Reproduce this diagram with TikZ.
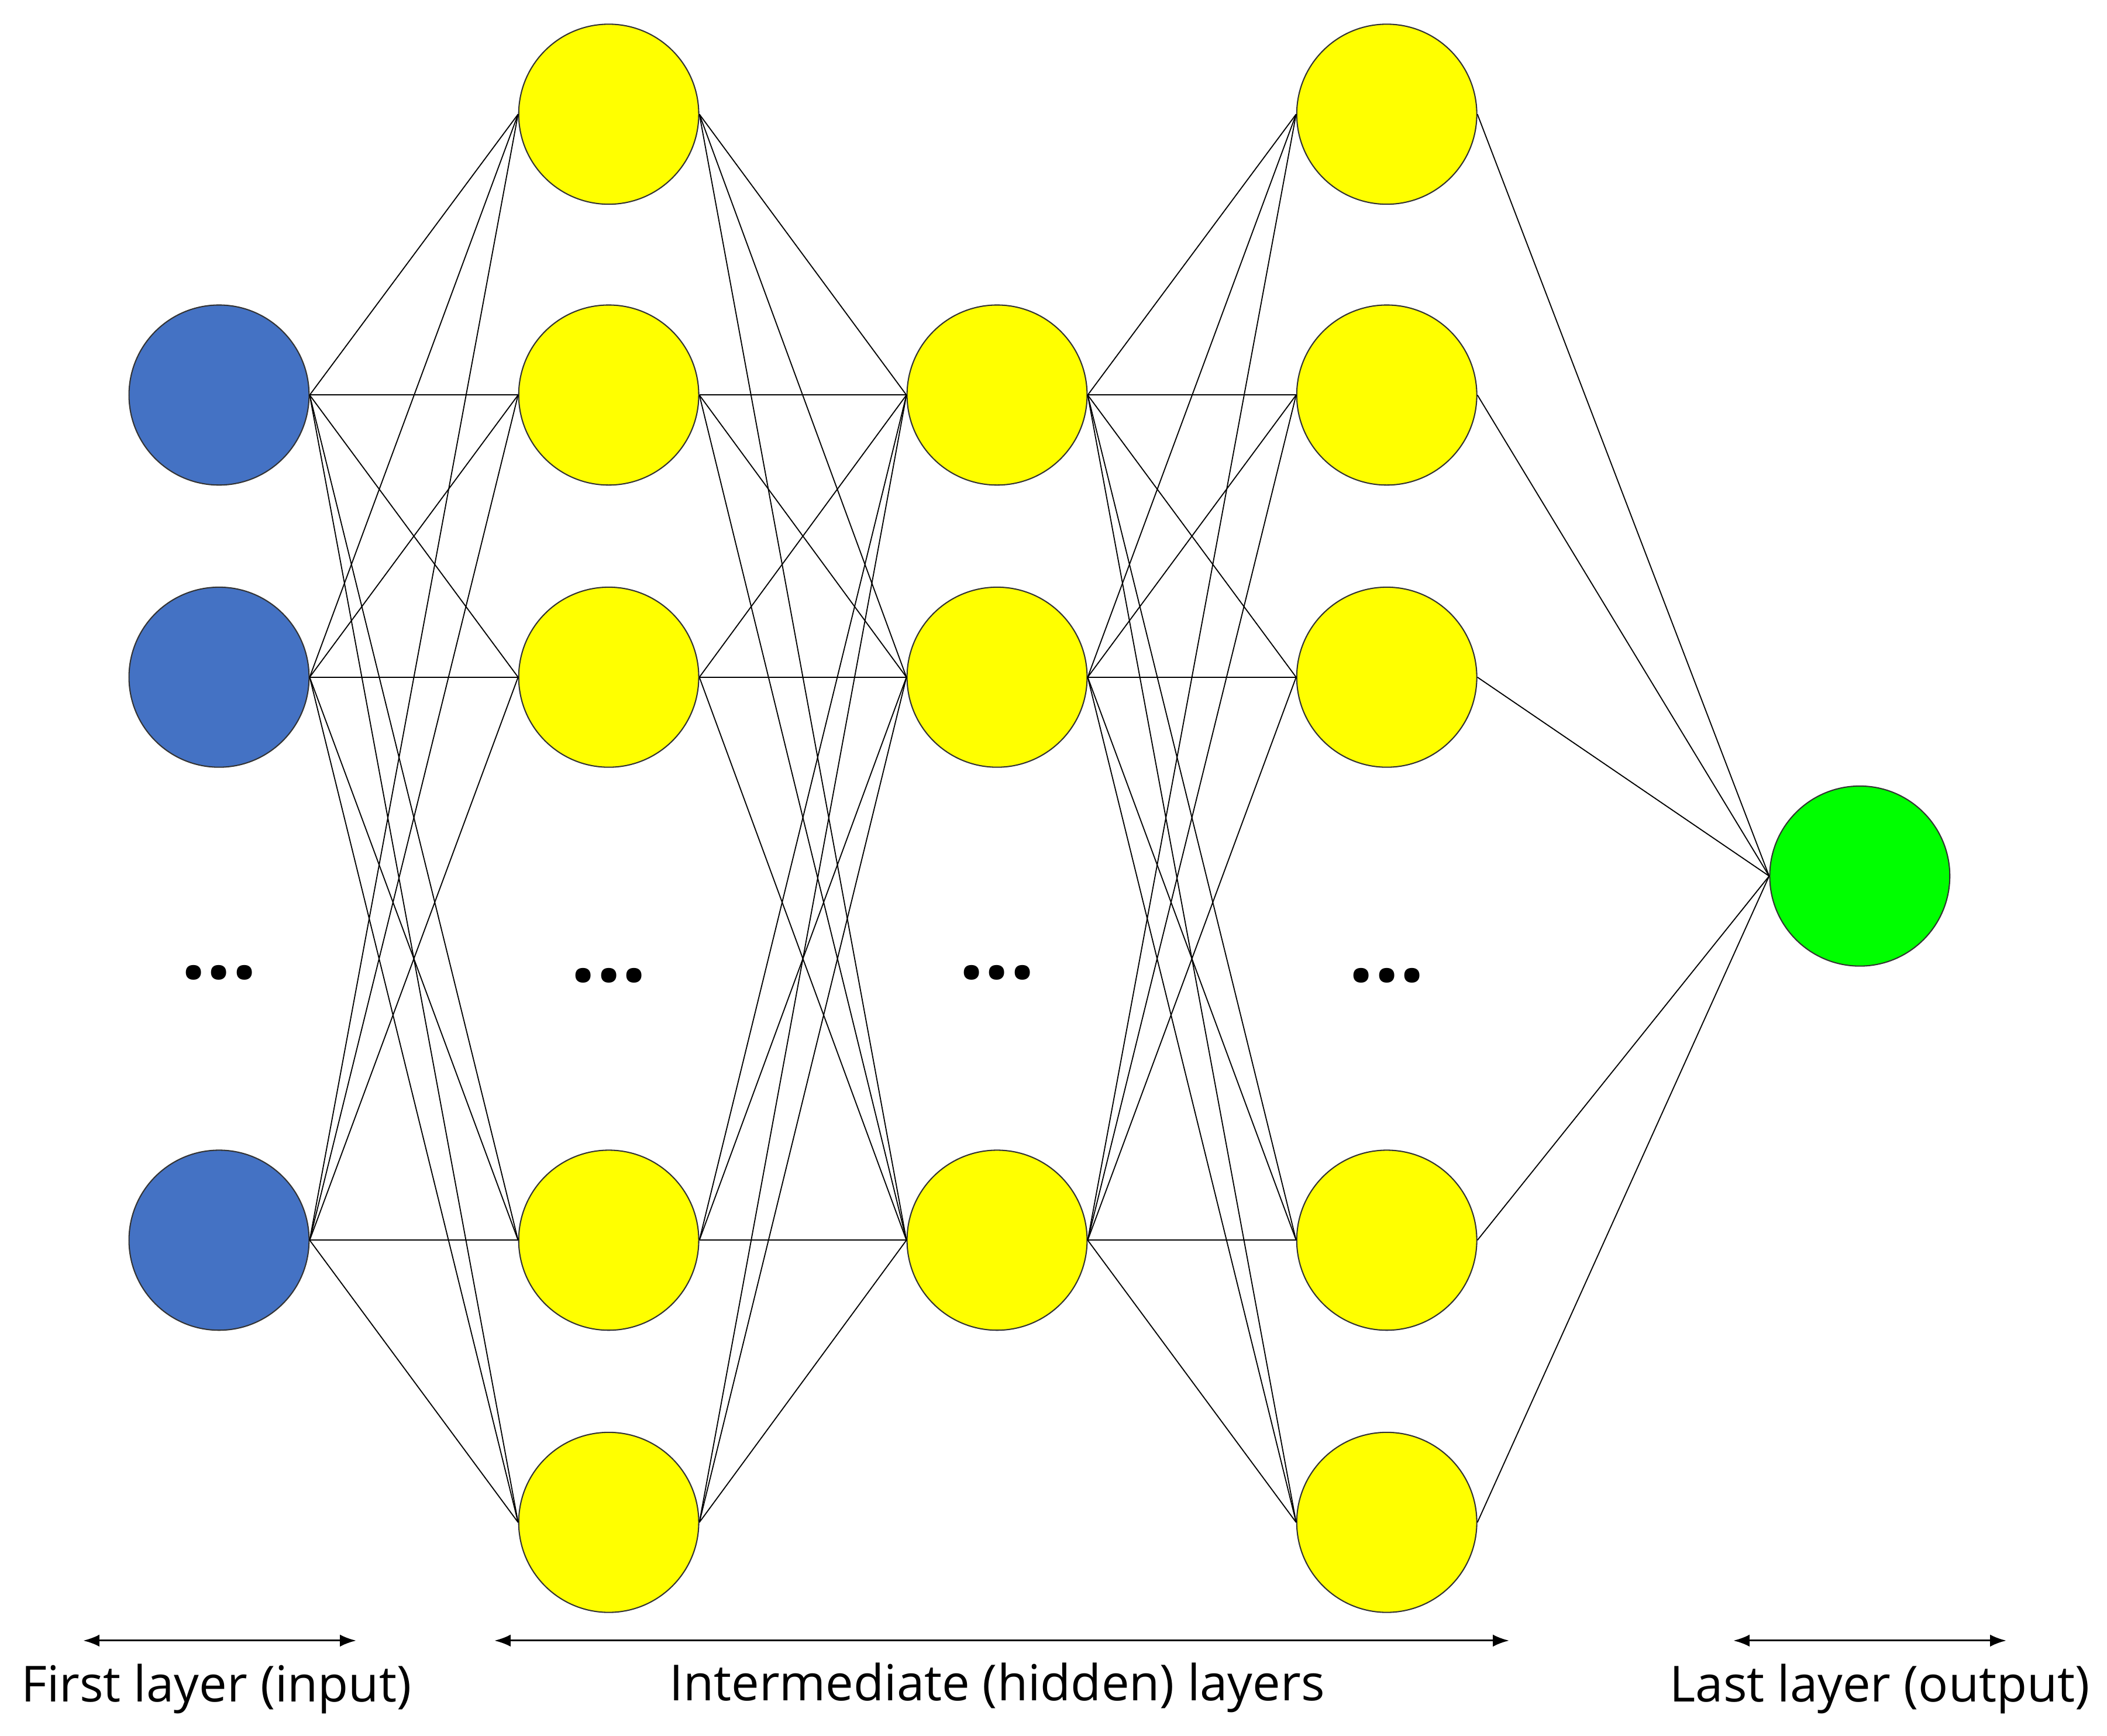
\documentclass[tikz,border=0pt]{standalone}
\usepackage{fontspec}
\setmainfont{Open Sans}
\usetikzlibrary{arrows.meta}
\begin{document}
\begin{tikzpicture}[x=1pt,y=-1pt,
  neu/.style={circle,draw=black!80,line width=0.9pt,minimum size=134pt,inner sep=0pt},
  inp/.style={neu,fill=blue4},
  hid/.style={neu,fill=yellow1},
  outn/.style={neu,fill=green1},
  con/.style={line width=0.8pt},
  dots/.style={font=\fontsize{66}{66}\selectfont\bfseries},
  lab/.style={font=\fontsize{37}{42}\selectfont},
  dim/.style={line width=1.3pt,{Latex[length=12pt,width=9pt]}-{Latex[length=12pt,width=9pt]}}]
\definecolor{blue4}{HTML}{4472C4}
\definecolor{green1}{HTML}{00FF00}
\definecolor{yellow1}{HTML}{FFFF00}
\useasboundingbox (0,0) rectangle (1568,1292);
\node[inp] (a1) at (163,294) {};
\node[inp] (a2) at (163,504) {};
\node[inp] (a3) at (163,923) {};
\foreach \i/\y in {1/85,2/294,3/504,4/923,5/1133}{
  \node[hid] (b\i) at (453,\y) {};
  \node[hid] (d\i) at (1032,\y) {};}
\node[hid] (c1) at (742,294) {};
\node[hid] (c2) at (742,504) {};
\node[hid] (c3) at (742,923) {};
\node[outn] (o) at (1384,652) {};
\foreach \i in {1,2,3}{\foreach \j in {1,...,5}{
  \draw[con] (a\i.east) -- (b\j.west);
  \draw[con] (b\j.east) -- (c\i.west);
  \draw[con] (c\i.east) -- (d\j.west);}}
\foreach \j in {1,...,5}{\draw[con] (d\j.east) -- (o.west);}
\node[dots] (e1) at (163,724) {...};
\node[dots] (e2) at (453,726) {...};
\node[dots] (e3) at (742,724) {...};
\node[dots] (e4) at (1032,726) {...};
\coordinate (p1) at (62,1221); \coordinate (p2) at (265,1221);
\coordinate (q1) at (368,1221); \coordinate (q2) at (1123,1221);
\coordinate (r1) at (1290,1221); \coordinate (r2) at (1493,1221);
\draw[dim] (p1) -- (p2);
\draw[dim] (q1) -- (q2);
\draw[dim] (r1) -- (r2);
\node[lab] (t1) at (161,1257) {First layer (input)};
\node[lab] (t2) at (742,1256) {Intermediate (hidden) layers};
\node[lab] (t3) at (1399,1257) {Last layer (output)};
\end{tikzpicture}
\end{document}
